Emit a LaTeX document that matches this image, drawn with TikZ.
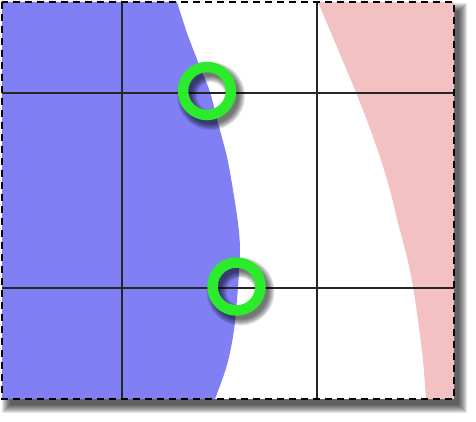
\documentclass[tikz,border=0pt]{standalone}
\begin{document}
\begin{tikzpicture}[x=1pt,y=-1pt]
\definecolor{regblue}{RGB}{128,128,244}
\definecolor{regpink}{RGB}{243,193,193}
\definecolor{ringgreen}{RGB}{44,234,44}
\tikzset{
  gridline/.style={line width=2.8pt, black!85},
  frameline/.style={line width=2.2pt, dash pattern=on 7pt off 5pt, black},
  ring/.style={draw=ringgreen, line width=10.5pt},
}
\useasboundingbox (0,0) rectangle (476,422);
% frame shadow
\foreach \k in {0,...,8}{
  \fill[black, opacity=0.1] (2+\k,3+\k) rectangle (467-\k,413-\k);
}
\fill[white] (2,2) rectangle (454,399);
% blue region
\fill[regblue] (2,2) -- plot[smooth] coordinates {(177,2) (187,33) (200,67) (210,92) (218,123) (227,157) (233,190) (238,223) (240,250) (238,287) (234,330) (227,365) (215,399)} -- (2,399) -- cycle;
% pink region
\fill[regpink] (454,2) -- plot[smooth] coordinates {(318,2) (337,47) (355,90) (368,123) (380,157) (390,190) (398,223) (407,257) (413,287) (418,320) (423,360) (426,399)} -- (454,399) -- cycle;
% grid
\coordinate (v1t) at (122,2); \coordinate (v1b) at (122,399);
\coordinate (v2t) at (317,2); \coordinate (v2b) at (317,399);
\coordinate (h1l) at (2,93); \coordinate (h1r) at (454,93);
\coordinate (h2l) at (2,288); \coordinate (h2r) at (454,288);
\draw[gridline] (v1t) -- (v1b);
\draw[gridline] (v2t) -- (v2b);
\draw[gridline] (h1l) -- (h1r);
\draw[gridline] (h2l) -- (h2r);
% frame
\draw[frameline] (2,2) rectangle (454,399);
% ring shadows
\foreach \cx/\cy in {207/91, 236.5/286.5}{
  \foreach \k in {0,...,6}{
    \pgfmathsetmacro{\lw}{20-2*\k}
    \draw[black, opacity=0.1, line width=\lw pt] (\cx+4,\cy+5) circle (24);
  }
}
\node[circle, ring, minimum size=48pt, inner sep=0pt] (c1) at (207,91) {};
\node[circle, ring, minimum size=48pt, inner sep=0pt] (c2) at (236.5,286.5) {};
\end{tikzpicture}
\end{document}
